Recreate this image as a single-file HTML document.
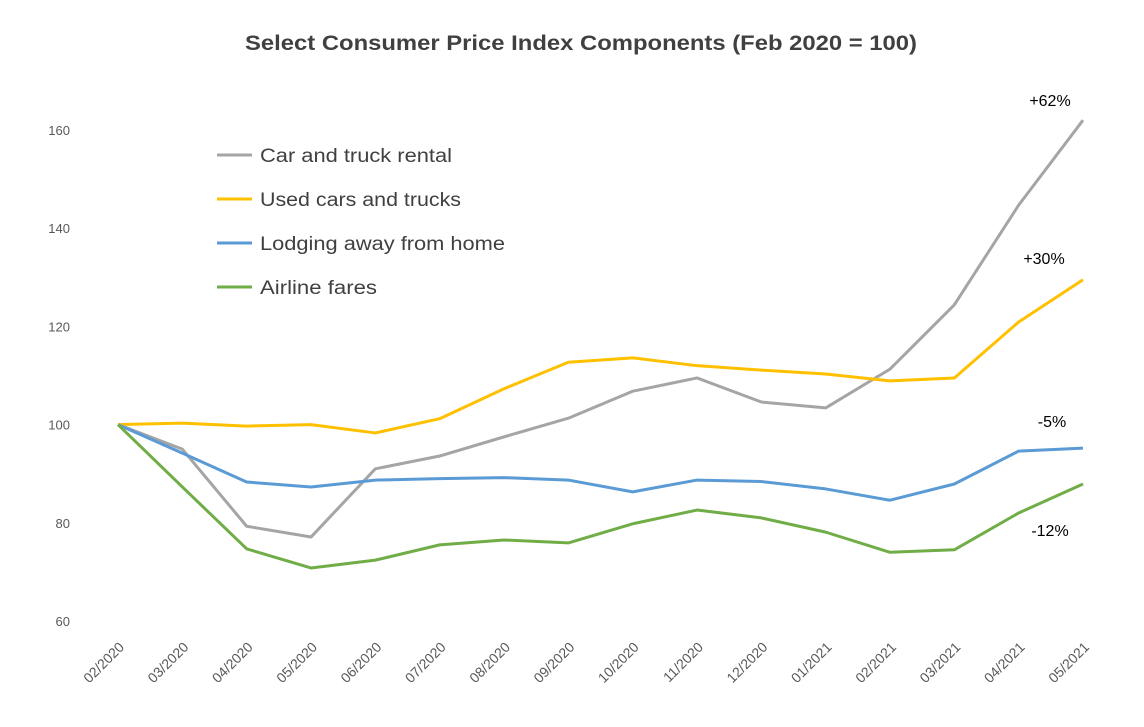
<!DOCTYPE html>
<html><head><meta charset="utf-8"><style>
body{margin:0;background:#fff;font-family:"Liberation Sans",sans-serif}
svg text{font-family:"Liberation Sans",sans-serif}
</style></head><body>
<svg id="chart" width="1144" height="722">
<text x="581" y="50" text-anchor="middle" font-size="21" font-weight="bold" fill="#404040" textLength="672" lengthAdjust="spacingAndGlyphs">Select Consumer Price Index Components (Feb 2020 = 100)</text>
<g id="yaxis"></g><g id="xaxis"></g><g id="lines"></g><g id="legend"></g><g id="annots"></g>
</svg>
<script>
const categories=["02/2020","03/2020","04/2020","05/2020","06/2020","07/2020","08/2020","09/2020","10/2020","11/2020","12/2020","01/2021","02/2021","03/2021","04/2021","05/2021"];
const carRental=[100,95,79.3,77.1,91,93.6,97.5,101.3,106.8,109.5,104.6,103.4,111.3,124.4,144.7,162];
const usedCars=[100,100.3,99.7,100,98.3,101.2,107.3,112.7,113.6,112,111.1,110.3,108.9,109.5,120.9,129.5];
const lodging=[100,94.2,88.3,87.3,88.7,89,89.2,88.7,86.3,88.7,88.4,86.9,84.6,87.9,94.6,95.2];
const airline=[100,87.3,74.7,70.8,72.4,75.5,76.5,75.9,79.8,82.6,81,78.1,74,74.5,82,87.9];
const yTicks=[60,80,100,120,140,160];
const seriesNames=["Car and truck rental","Used cars and trucks","Lodging away from home","Airline fares"];
const endLabels=["+62%","+30%","-5%","-12%"];
const NS="http://www.w3.org/2000/svg";
const x=i=>118+i*(1083-118)/(categories.length-1);
const y=v=>621-(v-60)*(621-130)/100;
function mk(tag,attrs,parent,text){const e=document.createElementNS(NS,tag);for(const k in attrs)e.setAttribute(k,attrs[k]);if(text!==undefined)e.textContent=text;parent.appendChild(e);return e;}
const ya=document.getElementById('yaxis');
yTicks.forEach(t=>{const e=mk('text',{x:70,y:y(t)+5,'text-anchor':'end','font-size':13,fill:'#595959'},ya,t);

});
const xa=document.getElementById('xaxis');
categories.forEach((c,i)=>{const e=mk('text',{x:x(i)+7,y:648,'text-anchor':'end','font-size':14,fill:'#595959',transform:`rotate(-45 ${x(i)+7} 648)`},xa,c);

});
const all=[carRental,usedCars,lodging,airline];
const colors=["#a5a5a5","#ffc000","#5b9bd5","#70ad47"];
const lg=document.getElementById('lines');
all.forEach((s,k)=>{const p=mk('polyline',{points:s.map((v,i)=>x(i)+','+y(v)).join(' '),fill:'none',stroke:colors[k],'stroke-width':3,'stroke-linejoin':'round'},lg);

});
const leg=document.getElementById('legend');
const legW=[192,201,245,117];
seriesNames.forEach((n,k)=>{const g=mk('g',{},leg);


const ly=155+k*44;
mk('line',{x1:217,x2:252,y1:ly,y2:ly,stroke:colors[k],'stroke-width':3},g);
mk('text',{x:260,y:ly+7,'font-size':19,fill:'#404040',textLength:legW[k],lengthAdjust:'spacingAndGlyphs'},g,n);});
const an=document.getElementById('annots');
const annPos=[[1050,106],[1044,264],[1052,427],[1050,536]];
endLabels.forEach((t,k)=>{const e=mk('text',{x:annPos[k][0],y:annPos[k][1],'text-anchor':'middle','font-size':16,fill:'#000'},an,t);

});
</script>
</body></html>
